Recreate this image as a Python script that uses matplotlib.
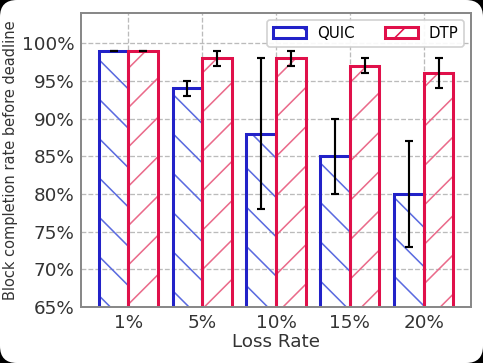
import numpy as np
import matplotlib
matplotlib.use("Agg")
import matplotlib.pyplot as plt
from matplotlib.patches import FancyBboxPatch, Patch

loss_rates = ["1%", "5%", "10%", "15%", "20%"]
quic = [99, 94, 88, 85, 80]
quic_err = [0, 1, 10, 5, 7]
dtp = [99, 98, 98, 97, 96]
dtp_err = [0, 1, 1, 1, 2]

BLUE = "#2222c8"
BLUE_H = "#5a6ae0"
RED = "#e0104a"
RED_H = "#ea6a8a"

DPI = 118
plt.rcParams["hatch.linewidth"] = 0.95

fig = plt.figure(figsize=(483 / DPI, 363 / DPI), dpi=DPI, facecolor="black")
# white rounded card on black background
card = FancyBboxPatch((0.0, 0.0), 1.0, 1.0, boxstyle="round,pad=0,rounding_size=0.035",
                      transform=fig.transFigure, facecolor="white", edgecolor="none",
                      mutation_aspect=483 / 363, zorder=-10)
fig.patches.append(card)

ax = fig.add_axes([81 / 483, 1 - 307 / 363, 390 / 483, 294 / 363])
ax.set_zorder(1)
x = np.arange(len(loss_rates))
w = 0.4

# hatch layer (lighter), then solid outline on top
ax.bar(x - w / 2, quic, w, fill=False, hatch="\\", edgecolor=BLUE_H, linewidth=0)
ax.bar(x + w / 2, dtp, w, fill=False, hatch="/", edgecolor=RED_H, linewidth=0)
ax.bar(x - w / 2, quic, w, fill=False, edgecolor=BLUE, linewidth=1.85)
ax.bar(x + w / 2, dtp, w, fill=False, edgecolor=RED, linewidth=1.85)

ax.errorbar(x - w / 2, quic, yerr=quic_err, fmt="none", ecolor="black", elinewidth=1.3,
            capsize=2.4, capthick=1.3)
ax.errorbar(x + w / 2, dtp, yerr=dtp_err, fmt="none", ecolor="black", elinewidth=1.3,
            capsize=2.4, capthick=1.3)

ax.set_ylim(65, 104)
ax.set_yticks(range(65, 101, 5))
ax.set_yticklabels([f"{v}%" for v in range(65, 101, 5)])
ax.set_xticks(x)
ax.set_xticklabels(loss_rates)
ax.tick_params(labelsize=11.2, colors="#333333", length=0, pad=4)
ax.set_xlabel("Loss Rate", fontsize=11.2, color="#333333", labelpad=1)
ax.set_ylabel("Block completion rate before deadline", fontsize=8.9, color="#333333", labelpad=2.6)
ax.grid(True, linestyle="--", color="#bbbbbb", linewidth=0.8)
ax.set_axisbelow(True)
for s in ax.spines.values():
    s.set_color("#888888")
    s.set_linewidth(1.2)

handles = [Patch(facecolor="white", edgecolor=BLUE, hatch="\\", linewidth=1.85, label="QUIC"),
           Patch(facecolor="white", edgecolor=RED, hatch="/", linewidth=1.85, label="DTP")]
ax.legend(handles=handles, loc="upper right", ncol=2, fontsize=9.2, columnspacing=2.0,
          handlelength=2.2, handletextpad=0.7, borderaxespad=0.45, framealpha=0.9)

fig.savefig("out.png", dpi=DPI, facecolor=fig.get_facecolor())
